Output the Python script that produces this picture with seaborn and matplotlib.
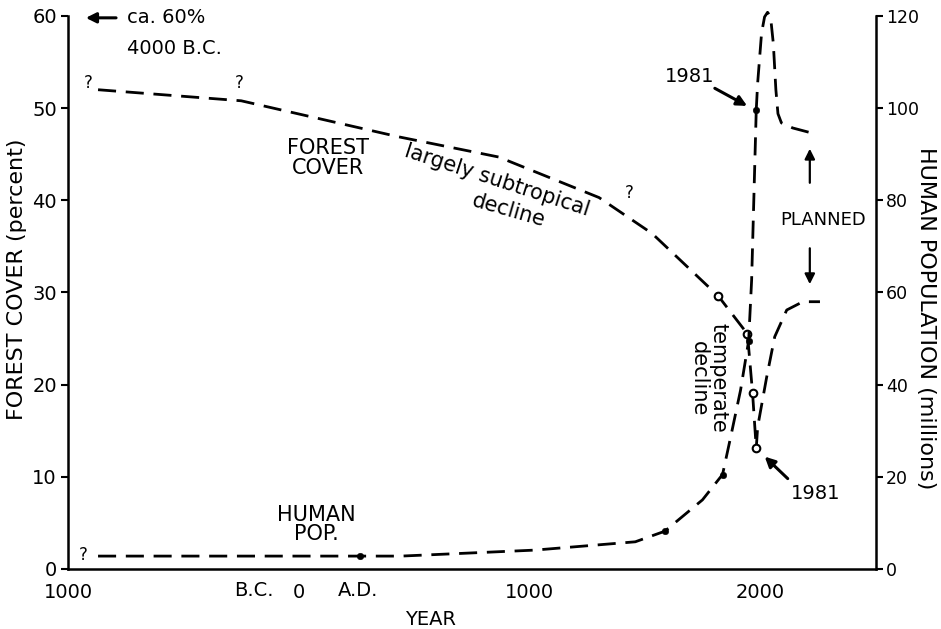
import numpy as np
import pandas as pd
import seaborn as sns
import matplotlib.pyplot as plt

sns.set_style("white")
plt.rcParams["font.family"] = ["DejaVu Sans"]
plt.rcParams["text.color"] = "black"
plt.rcParams["axes.labelcolor"] = "black"

"""
Forest cover (percent) and human population (millions) over time, with planned values.
"""
# Data
forest_year = [-870, -250, 430, 865, 1300, 1530, 1817, 1943, 1965, 1981]
forest_pct = [52.0, 50.8, 46.9, 44.7, 40.3, 36.4, 29.6, 25.5, 19.1, 13.1]
forest_marked_year = [1817, 1943, 1965, 1981]
forest_marked_pct = [29.6, 25.5, 19.1, 13.1]

planned_forest_year = [1981, 1987, 2026, 2061, 2113, 2183, 2257]
planned_forest_pct = [13.1, 15.4, 20.8, 25.2, 28.1, 29.0, 29.0]

pop_year = [-870, 265, 443, 1022, 1457, 1585, 1748, 1835, 1870, 1913, 1948, 1961, 1981]
pop_mil = [2.8, 2.8, 2.8, 4.1, 5.9, 8.2, 15.0, 20.5, 28.6, 38.8, 49.5, 62.7, 99.6]
pop_marked_year = [265, 1585, 1835, 1948, 1981]
pop_marked_mil = [2.8, 8.2, 20.5, 49.5, 99.6]

planned_pop_year = [1981, 1987, 2004, 2017, 2030, 2043, 2055, 2066, 2075, 2090, 2139, 2222]
planned_pop_mil = [99.6, 105.4, 116.3, 119.8, 120.8, 119.8, 114.0, 104.0, 98.8, 96.8, 95.7, 94.6]

x_ticks = [-1000, 0, 1000, 2000]
x_tick_labels = ["1000", "0", "1000", "2000"]
x_minor = [-500, 1500]

dash = (0, (6.5, 3.5))
lw = 2.0
fs = 14
afs = 15

fig = plt.figure(figsize=(9.41, 6.29), dpi=100)
ax = fig.add_axes([0.0723, 0.0954, 0.8587, 0.8865])
ax2 = ax.twinx()

# Forest cover (left axis)
sns.lineplot(x=forest_year, y=forest_pct, ax=ax, color="black", lw=lw, linestyle=dash, estimator=None)
sns.lineplot(x=planned_forest_year, y=planned_forest_pct, ax=ax, color="black", lw=lw, linestyle=dash, estimator=None)
sns.scatterplot(x=forest_marked_year, y=forest_marked_pct, ax=ax, marker="o", s=30,
                facecolor="white", edgecolor="black", linewidth=1.5, zorder=5)

# Human population (right axis)
sns.lineplot(x=pop_year, y=pop_mil, ax=ax2, color="black", lw=lw, linestyle=dash, estimator=None)
sns.lineplot(x=planned_pop_year, y=planned_pop_mil, ax=ax2, color="black", lw=lw, linestyle=dash, estimator=None)
sns.scatterplot(x=pop_marked_year, y=pop_marked_mil, ax=ax2, marker="o", s=22,
                color="black", edgecolor="black", zorder=5)

# Axes setup
ax.set_xlim(-1000, 2500)
ax.set_ylim(0, 60.5)
ax2.set_ylim(0, 121)
ax.set_yticks(range(0, 61, 10))
ax2.set_yticks(range(0, 121, 20))
ax.set_xticks(x_ticks)
ax.set_xticklabels(x_tick_labels)
ax.set_xticks(x_minor, minor=True)
for a in (ax, ax2):
    a.spines["top"].set_visible(False)
    for s in a.spines.values():
        s.set_linewidth(1.8)
        s.set_color("black")
ax.spines["right"].set_visible(False)
ax2.spines["left"].set_visible(False)
ax2.spines["bottom"].set_visible(False)
ax.spines["left"].set_bounds(0, 60)
ax2.spines["right"].set_bounds(0, 120)
ax.tick_params(axis="both", which="both", direction="out", length=5, width=1.5, labelsize=fs, pad=3, colors="black")
ax.tick_params(axis="x", which="major", pad=5)
ax2.tick_params(axis="y", direction="out", length=5, width=1.5, labelsize=12.5, pad=2, colors="black")
ax.set_ylabel("FOREST COVER (percent)", fontsize=16, va="center", ha="center")
ax.yaxis.set_label_coords((17 - 68) / 808, 0.52)
ax2.set_ylabel("HUMAN POPULATION (millions)", fontsize=16, rotation=-90, va="center", ha="center")
ax2.yaxis.set_label_coords((926 - 68) / 808, 0.45)
ax.set_xlabel("YEAR", fontsize=fs, va="center", ha="center")
ax.xaxis.set_label_coords((430 - 68) / 808, -0.0898)
ax.grid(False)
ax2.grid(False)

# Annotations
ax.text(-196, -2.3, "B.C.", ha="center", va="center", fontsize=fs)
ax.text(257, -2.3, "A.D.", ha="center", va="center", fontsize=fs)

ax.annotate("", xy=(-935, 59.8), xytext=(-780, 59.8),
            arrowprops=dict(arrowstyle="-|>", color="black", lw=2.2, mutation_scale=15))
ax.text(-745, 59.8, "ca. 60%", ha="left", va="center", fontsize=fs)
ax.text(-745, 56.5, "4000 B.C.", ha="left", va="center", fontsize=fs)

for qx, qy in [(-913, 52.7), (-257, 52.7), (1430, 40.8), (-935, 1.5)]:
    ax.text(qx, qy, "?", ha="center", va="center", fontsize=12)

ax.text(126, 44.6, "FOREST\nCOVER", ha="center", va="center", fontsize=afs, linespacing=0.95)
ax.text(857, 42.2, "largely subtropical", ha="center", va="center", fontsize=afs, rotation=-18)
ax.text(909, 38.9, "decline", ha="center", va="center", fontsize=afs, rotation=-16)
ax.text(1775, 20.7, "temperate\ndecline", ha="center", va="center", fontsize=afs, rotation=-90, linespacing=0.95)
ax.text(74, 4.8, "HUMAN\nPOP.", ha="center", va="center", fontsize=afs, linespacing=0.95)

ax.text(1691, 53.4, "1981", ha="center", va="center", fontsize=fs)
ax.annotate("", xy=(1952, 50.1), xytext=(1791, 52.3),
            arrowprops=dict(arrowstyle="-|>", color="black", lw=2.2, mutation_scale=15))
ax.text(2239, 8.2, "1981", ha="center", va="center", fontsize=fs)
ax.annotate("", xy=(2009, 12.4), xytext=(2126, 9.6),
            arrowprops=dict(arrowstyle="-|>", color="black", lw=2.2, mutation_scale=15))

ax.text(2270, 37.9, "PLANNED", ha="center", va="center", fontsize=13)
ax.annotate("", xy=(2213, 45.9), xytext=(2213, 41.6),
            arrowprops=dict(arrowstyle="-|>", color="black", lw=1.6, mutation_scale=15))
ax.annotate("", xy=(2213, 30.6), xytext=(2213, 35.1),
            arrowprops=dict(arrowstyle="-|>", color="black", lw=1.6, mutation_scale=15))

plt.savefig("out.png", dpi=100)
plt.close()
